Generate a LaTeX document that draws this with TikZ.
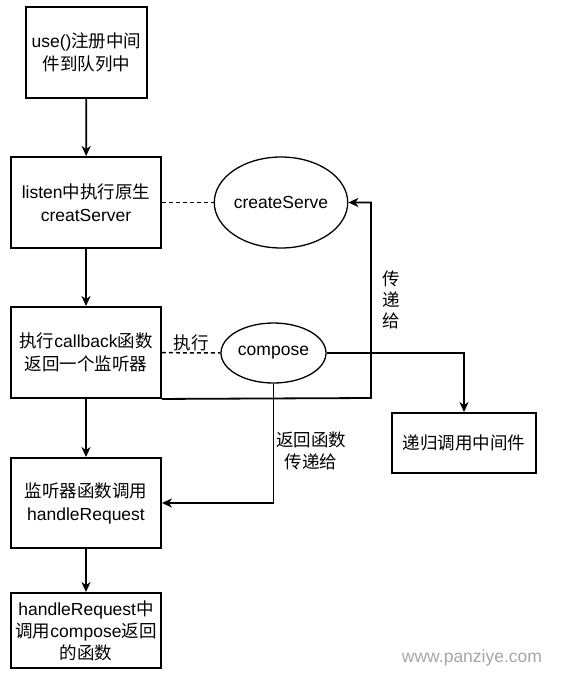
\documentclass[tikz,border=0pt]{standalone}
\usepackage{fontspec}
\setmainfont{Liberation Sans}
\newfontfamily\cjk{Noto Sans CJK SC}
\usepackage{xcolor}
\usepackage{tikz}
\usetikzlibrary{shapes,arrows,arrows.meta,positioning}

\begin{document}
\begin{tikzpicture}[x=1pt, y=-1pt, font=\fontsize{17.5}{23}\selectfont]
    \tikzstyle{box} = [rectangle, draw=black, line width=1.9pt, align=center, inner sep=0pt, minimum width=150pt]
    \tikzstyle{oval} = [ellipse, draw=black, line width=1.3pt, inner sep=0pt]
    \tikzstyle{arrow} = [->, >={Stealth[length=10pt,width=9pt,inset=3pt]}, line width=1.8pt]
    \tikzstyle{link} = [line width=1.5pt, dash pattern=on 4pt off 3pt]

    \useasboundingbox (0,0) rectangle (563,681);

    \node [box, minimum width=121pt, minimum height=91pt] (use) at (86.5,52.5) {use(){\cjk 注册中间}\\{\cjk 件到队列中}};
    \node [box, minimum height=91pt] (listen) at (86,202.5) {listen{\cjk 中执行原生}\\creatServer};
    \node [box, minimum height=91pt] (exec) at (86,352.5) {{\cjk 执行}callback{\cjk 函数}\\{\cjk 返回一个监听器}};
    \node [box, minimum height=90pt] (handle) at (86,503) {{\cjk 监听器函数调用}\\handleRequest};
    \node [box, minimum height=75pt, font=\fontsize{17.5}{22}\selectfont] (call) at (86,630.5) {handleRequest{\cjk 中}\\{\cjk 调用}compose{\cjk 返回}\\{\cjk 的函数}};
    \node [box, minimum width=144pt, minimum height=60pt, font=\cjk\fontsize{17.5}{23}\selectfont] (recur) at (464,443) {递归调用中间件};

    \node [oval, minimum width=120pt, minimum height=91pt] (serve) at (281,202.5) {createServe};
    \node [oval, minimum width=105pt, minimum height=60pt] (compose) at (273.5,353) {compose};

    \draw [arrow] (use) -- (listen);
    \draw [arrow] (listen) -- (exec);
    \draw [arrow] (exec) -- (handle);
    \draw [arrow] (handle) -- (call);

    \draw [link] (listen) -- (serve);
    \draw [link] (exec) -- node [above, inner sep=1pt, font=\cjk\fontsize{17.5}{23}\selectfont] (run) {执行} (compose);

    % 传递给 createServe
    \draw [arrow] (exec.south east) -- (371,398) |- (serve.east);
    \node [align=center, font=\cjk\fontsize{17.5}{21}\selectfont] (pass) at (391.5,300) {传\\递\\给};

    \draw [arrow] (compose.east) -| (recur.north);
    \draw [arrow] (compose.south) |- (handle.east);
    \node [align=center, font=\cjk\fontsize{17.5}{22}\selectfont] (back) at (311,451) {返回函数\\传递给};

    \node [text=black!35] (mark) at (472,658) {www.panziye.com};
\end{tikzpicture}
\end{document}
